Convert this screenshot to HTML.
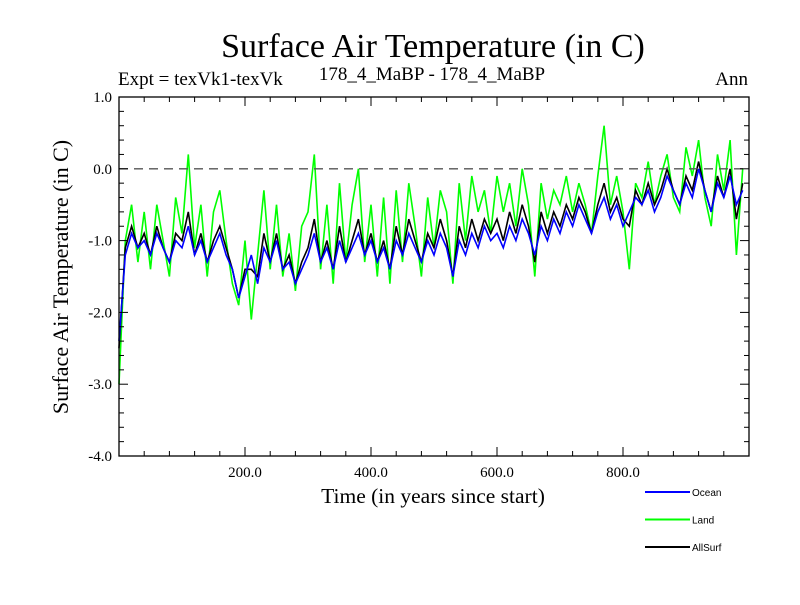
<!DOCTYPE html>
<html><head><meta charset="utf-8"><style>
body{margin:0;background:#fff}
svg text{font-family:"Liberation Serif",serif}
</style></head><body>
<svg id="chart" width="800" height="600" xmlns="http://www.w3.org/2000/svg">
<rect width="800" height="600" fill="#fff"/>
<text x="433" y="57" font-size="34" text-anchor="middle">Surface Air Temperature (in C)</text>
<text x="118" y="85" font-size="19">Expt = texVk1-texVk</text>
<text x="432" y="80" font-size="19" text-anchor="middle">178_4_MaBP - 178_4_MaBP</text>
<text x="748" y="85" font-size="19" text-anchor="end">Ann</text>
<text transform="translate(68,277) rotate(-90)" font-size="22" text-anchor="middle">Surface Air Temperature (in C)</text>
<text x="433" y="503" font-size="21.5" text-anchor="middle">Time (in years since start)</text>
<g id="series"></g>
<g id="axes"></g>
<g id="legend"></g>
</svg>
<script>
const years=[];for(let i=0;i<100;i++)years.push(i*10);
const ocean=[-2.4,-1.2,-0.9,-1.1,-1.0,-1.2,-0.9,-1.1,-1.3,-1.0,
-1.1,-0.8,-1.2,-1.0,-1.3,-1.1,-0.9,-1.2,-1.4,-1.8,
-1.5,-1.2,-1.6,-1.1,-1.3,-1.0,-1.4,-1.3,-1.6,-1.4,
-1.2,-0.9,-1.3,-1.1,-1.4,-1.0,-1.3,-1.1,-0.9,-1.2,
-1.0,-1.3,-1.1,-1.4,-1.0,-1.2,-0.9,-1.1,-1.3,-1.0,
-1.2,-0.9,-1.1,-1.5,-1.0,-1.2,-0.9,-1.1,-0.8,-1.0,
-0.9,-1.1,-0.8,-1.0,-0.7,-0.9,-1.2,-0.8,-1.0,-0.7,
-0.9,-0.6,-0.8,-0.5,-0.7,-0.9,-0.6,-0.4,-0.7,-0.5,
-0.8,-0.6,-0.4,-0.5,-0.3,-0.6,-0.4,-0.1,-0.3,-0.5,
-0.2,-0.4,0.0,-0.3,-0.6,-0.2,-0.4,-0.1,-0.5,-0.3];
const land=[-3.0,-1.0,-0.5,-1.3,-0.6,-1.4,-0.5,-1.0,-1.5,-0.4,
-0.9,0.2,-1.1,-0.5,-1.5,-0.6,-0.3,-1.0,-1.6,-1.9,
-1.0,-2.1,-1.2,-0.3,-1.4,-0.5,-1.5,-0.9,-1.7,-0.8,
-0.6,0.2,-1.4,-0.5,-1.6,-0.2,-1.3,-0.5,0.0,-1.3,
-0.5,-1.5,-0.4,-1.6,-0.3,-1.3,-0.2,-0.8,-1.5,-0.4,
-1.1,-0.3,-0.6,-1.6,-0.2,-1.0,-0.1,-0.6,-0.3,-0.9,
-0.1,-0.6,-0.2,-0.8,0.0,-0.5,-1.5,-0.2,-0.7,-0.3,
-0.5,-0.1,-0.6,-0.2,-0.5,-0.9,-0.1,0.6,-0.5,-0.1,
-0.6,-1.4,-0.2,-0.4,0.1,-0.5,-0.1,0.2,-0.4,-0.6,
0.3,-0.1,0.4,-0.4,-0.8,0.2,-0.3,0.4,-1.2,0.0];
const allsurf=[-2.5,-1.1,-0.8,-1.1,-0.9,-1.2,-0.8,-1.1,-1.3,-0.9,
-1.0,-0.6,-1.2,-0.9,-1.3,-1.0,-0.8,-1.1,-1.4,-1.8,
-1.4,-1.4,-1.5,-0.9,-1.3,-0.9,-1.4,-1.2,-1.6,-1.3,
-1.1,-0.7,-1.3,-1.0,-1.4,-0.8,-1.3,-1.0,-0.7,-1.2,
-0.9,-1.3,-1.0,-1.4,-0.8,-1.2,-0.7,-1.0,-1.3,-0.9,
-1.1,-0.7,-1.0,-1.5,-0.8,-1.1,-0.7,-1.0,-0.7,-0.9,
-0.7,-1.0,-0.6,-0.9,-0.5,-0.8,-1.3,-0.6,-0.9,-0.6,
-0.8,-0.5,-0.7,-0.4,-0.6,-0.9,-0.5,-0.2,-0.6,-0.4,
-0.7,-0.8,-0.3,-0.5,-0.2,-0.5,-0.3,0.0,-0.3,-0.5,
-0.1,-0.3,0.1,-0.3,-0.6,-0.1,-0.4,0.0,-0.7,-0.2];
const yTicks=[1.0,0.0,-1.0,-2.0,-3.0,-4.0];
const xTicks=[200,400,600,800];
const X0=119,X1=749,Y0=97,Y1=456;
const sx=v=>X0+(v-0)/(1000-0)*(X1-X0);
const sy=v=>Y0+(1-v)/(1-(-4))*(Y1-Y0);
const NS="http://www.w3.org/2000/svg";
function mk(t,a,p){const e=document.createElementNS(NS,t);for(const k in a)e.setAttribute(k,a[k]);p.appendChild(e);return e;}
const ser=document.getElementById('series'),ax=document.getElementById('axes'),lg=document.getElementById('legend');
function line(arr,color,name){
 const d=arr.map((v,i)=>(i?'L':'M')+sx(years[i]).toFixed(1)+','+sy(v).toFixed(1)).join('');
 const p=mk('path',{d:d,fill:'none',stroke:color,'stroke-width':1.6},ser);
 
 
}
line(land,'#00ff00','land-line');
line(allsurf,'#000000','allsurf-line');
line(ocean,'#0000ff','ocean-line');
const zl=mk('line',{x1:X0,x2:X1,y1:sy(0),y2:sy(0),stroke:'#555','stroke-dasharray':'9,6','stroke-width':1.3},ax);


const fr=mk('rect',{x:X0,y:Y0,width:X1-X0,height:Y1-Y0,fill:'none',stroke:'#000','stroke-width':1.3},ax);


for(let v=-4;v<=1.001;v+=0.2){const y=sy(v);const major=Math.abs(v-Math.round(v))<1e-6;const w=major?9:5;
 mk('line',{x1:X0,x2:X0+w,y1:y,y2:y,stroke:'#000'},ax);mk('line',{x1:X1,x2:X1-w,y1:y,y2:y,stroke:'#000'},ax);}
for(let v=40;v<1000;v+=40){const x=sx(v);const major=v%200==0;const w=major?9:5;
 mk('line',{x1:x,x2:x,y1:Y1,y2:Y1-w,stroke:'#000'},ax);mk('line',{x1:x,x2:x,y1:Y0,y2:Y0+w,stroke:'#000'},ax);}
yTicks.forEach(v=>{const t=mk('text',{x:X0-7,y:sy(v)+5,'font-size':15,'text-anchor':'end'},ax);t.textContent=v.toFixed(1);
 
 });
xTicks.forEach(v=>{const t=mk('text',{x:sx(v),y:Y1+21,'font-size':15,'text-anchor':'middle'},ax);t.textContent=v.toFixed(1);
 
 });
const legendNames=['Ocean','Land','AllSurf'];
const legendColors=['#0000ff','#00ff00','#000000'];
legendNames.forEach((n,i)=>{const y=492+i*27.5;
 const l=mk('line',{x1:645,x2:690,y1:y,y2:y,stroke:legendColors[i],'stroke-width':2},lg);
 
 
 const t=mk('text',{x:692,y:y+4,'font-size':10,style:'font-family:"Liberation Sans",sans-serif'},lg);t.textContent=n;
 
 });
</script>
</body></html>
